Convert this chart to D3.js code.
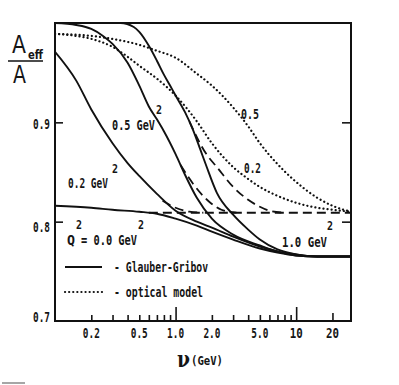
<!DOCTYPE html>
<html>
<head>
<meta charset="utf-8">
<script src="https://cdnjs.cloudflare.com/ajax/libs/d3/7.8.5/d3.min.js"></script>
<style>
body { margin: 0; background: #fff; }
svg { display: block; }
text { font-family: "DejaVu Sans Mono", monospace; font-weight: bold; fill: #151515; }
.tick line { stroke: #151515; stroke-width: 1.6; }
</style>
</head>
<body>
<svg width="399" height="385"></svg>
<script>
// Glauber-Gribov (solid), one per Q^2
var glauber00 = [[0.1,0.816],[0.2,0.814],[0.3,0.812],[0.5,0.810],[0.7,0.808],[1.0,0.803],[1.5,0.796],[2,0.790],[3,0.782],[5,0.773],[7,0.769],[10,0.766],[15,0.765],[28.5,0.765]];
var glauber02 = [[0.1,0.971],[0.15,0.942],[0.2,0.913],[0.3,0.879],[0.4,0.859],[0.5,0.846],[0.7,0.828],[1.0,0.811],[1.5,0.800],[2,0.794],[3,0.785],[5,0.775],[7,0.770],[10,0.766],[15,0.765],[28.5,0.765]];
var glauber05 = [[0.1,1.0],[0.15,0.998],[0.2,0.994],[0.25,0.987],[0.3,0.979],[0.4,0.960],[0.5,0.937],[0.6,0.916],[0.7,0.903],[0.8,0.891],[1.0,0.868],[1.2,0.847],[1.5,0.824],[2,0.803],[3,0.787],[5,0.776],[7,0.770],[10,0.767],[15,0.765],[28.5,0.765]];
var glauber10 = [[0.1,1.0],[0.35,1.0],[0.45,0.996],[0.5,0.991],[0.6,0.977],[0.7,0.962],[0.8,0.948],[0.9,0.937],[1.0,0.927],[1.2,0.910],[1.4,0.892],[1.6,0.873],[1.8,0.856],[2.2,0.829],[3,0.807],[4,0.792],[5,0.782],[7,0.772],[10,0.767],[15,0.765],[28.5,0.765]];

// dashed branches
var dash00 = [[0.6,0.809],[28.5,0.809]];
var dash02 = [[0.78,0.821],[1.0,0.814],[1.3,0.810],[1.7,0.809]];
var dash05 = [[1.1,0.857],[1.4,0.838],[1.9,0.820],[2.4,0.812],[3.2,0.809]];
var dash10 = [[1.3,0.901],[1.8,0.868],[2.2,0.855],[3.0,0.835],[4,0.822],[5,0.815],[6,0.811],[8,0.809]];

// optical model (dotted)
var optical02 = [[0.1,0.989],[0.15,0.987],[0.2,0.984],[0.3,0.976],[0.4,0.966],[0.5,0.957],[0.7,0.944],[1.0,0.927],[1.5,0.901],[2,0.879],[3,0.855],[4,0.843],[5,0.835],[7,0.826],[10,0.819],[15,0.814],[20,0.812],[28.5,0.810]];
var optical05 = [[0.1,0.989],[0.2,0.987],[0.3,0.984],[0.4,0.981],[0.5,0.978],[0.7,0.972],[1.0,0.965],[1.5,0.949],[2,0.937],[3,0.915],[4,0.896],[5,0.879],[7,0.858],[10,0.840],[15,0.824],[20,0.816],[28.5,0.810]];

var xMinorTicks = [0.2,0.3,0.4,0.5,0.6,0.7,0.8,0.9,2,3,4,5,6,7,8,9];
var xMajorTicks = [1, 10];
var xMidTicks = [20];
var xLabelValues = [0.2, 0.5, 1, 2, 5, 10, 20];
var xLabelText = ["0.2", "0.5", "1.0", "2.0", "5.0", "10", "20"];
var yTicks = [0.8, 0.9];
var yLabelValues = [0.7, 0.8, 0.9];
var yLabelText = ["0.7", "0.8", "0.9"];

var svg = d3.select("svg");
var plotLeft = 55, plotRight = 351, plotTop = 23, plotBottom = 321;

var x = d3.scaleLog().domain([0.1, 28.5]).range([plotLeft, plotRight]);
var y = d3.scaleLinear().domain([0.7, 1.0]).range([plotBottom, plotTop]);

svg.append("clipPath").attr("id", "plot")
    .append("rect").attr("x", plotLeft).attr("y", plotTop)
    .attr("width", plotRight - plotLeft).attr("height", plotBottom - plotTop);

var line = d3.line()
    .x(d => x(d[0]))
    .y(d => y(d[1]))
    .curve(d3.curveMonotoneX);

var curves = svg.append("g").attr("clip-path", "url(#plot)")
    .attr("fill", "none").attr("stroke", "#111");

[glauber00, glauber02, glauber05, glauber10].forEach(s => {
    curves.append("path").attr("d", line(s)).attr("stroke-width", 1.9);
});
[dash00, dash02, dash05, dash10].forEach(s => {
    curves.append("path").attr("d", line(s)).attr("stroke-width", 1.8)
        .attr("stroke-dasharray", "9 5");
});
[optical02, optical05].forEach(s => {
    curves.append("path").attr("d", line(s)).attr("stroke-width", 2.2)
        .attr("stroke-linecap", "round").attr("stroke-dasharray", "0.1 4");
});

// ticks, drawn inside the frame
function ticks(axis, vals, size, tr) {
    var g = svg.append("g").attr("transform", tr)
        .call(axis.tickValues(vals).tickSize(size).tickFormat(""));
    g.select(".domain").remove();
}
ticks(d3.axisBottom(x), xMinorTicks, -6, "translate(0," + plotBottom + ")");
ticks(d3.axisBottom(x), xMidTicks, -8, "translate(0," + plotBottom + ")");
ticks(d3.axisBottom(x), xMajorTicks, -14, "translate(0," + plotBottom + ")");
ticks(d3.axisLeft(y), yTicks, -8, "translate(" + plotLeft + ",0)");
ticks(d3.axisRight(y), yTicks, -9, "translate(" + plotRight + ",0)");

// frame
svg.append("rect").attr("x", plotLeft).attr("y", plotTop)
    .attr("width", plotRight - plotLeft).attr("height", plotBottom - plotTop)
    .attr("fill", "none").attr("stroke", "#111").attr("stroke-width", 2);

// condensed text helper
function txt(x0, y0, s, size, w, family, weight) {
    var t = svg.append("text").attr("x", x0).attr("y", y0)
        .attr("font-size", size).text(s);
    if (w) t.attr("textLength", w).attr("lengthAdjust", "spacingAndGlyphs");
    if (family) t.style("font-family", family);
    if (weight) t.style("font-weight", weight);
    return t;
}

xLabelValues.forEach((v, i) => {
    var w = xLabelText[i].length == 3 ? 17 : 13;
    txt(x(v) - w / 2, 338, xLabelText[i], 14, w);
});
var yBase = [322, 232, 129];
yLabelValues.forEach((v, i) => {
    txt(33, yBase[i], yLabelText[i], 14, 17);
});

// axis titles
txt(12, 53, "A", 25, 14, "DejaVu Sans", "normal");
txt(28, 59, "eff", 12, 15, "DejaVu Sans", "bold");
svg.append("line").attr("x1", 8).attr("x2", 43).attr("y1", 61).attr("y2", 61)
    .attr("stroke", "#111").attr("stroke-width", 1.6);
txt(13, 83, "A", 25, 13, "DejaVu Sans", "normal");
txt(177, 367, "\u03bd", 22, 13, "DejaVu Serif", "bold");
txt(191, 365, "(GeV)", 12, 32);

// curve labels
txt(112, 130, "0.5 GeV", 14, 43);
txt(156, 114, "2", 13, 6);
txt(68, 188, "0.2 GeV", 14, 40);
txt(112, 173, "2", 13, 6);
txt(282, 247, "1.0 GeV", 14, 45);
txt(327, 230, "2", 13, 6);
txt(67, 245, "Q", 14, 8);
txt(76, 229, "2", 13, 6);
txt(81, 245, "= 0.0 GeV", 14, 56);
txt(138, 229, "2", 13, 6);
txt(241, 119, "0.5", 14, 18);
txt(244, 173, "0.2", 14, 17);

// legend
svg.append("line").attr("x1", 65).attr("x2", 102).attr("y1", 267).attr("y2", 267)
    .attr("stroke", "#111").attr("stroke-width", 1.9);
svg.append("line").attr("x1", 65).attr("x2", 105).attr("y1", 292).attr("y2", 292)
    .attr("stroke", "#111").attr("stroke-width", 2.2)
    .attr("stroke-linecap", "round").attr("stroke-dasharray", "0.1 4");
txt(114, 272, "- Glauber-Gribov", 14, 94);
txt(114, 297, "- optical model", 14, 89);

// scan mark bottom left
svg.append("line").attr("x1", 2).attr("x2", 25).attr("y1", 383).attr("y2", 383)
    .attr("stroke", "#888").attr("stroke-width", 1.5);
</script>
</body>
</html>
